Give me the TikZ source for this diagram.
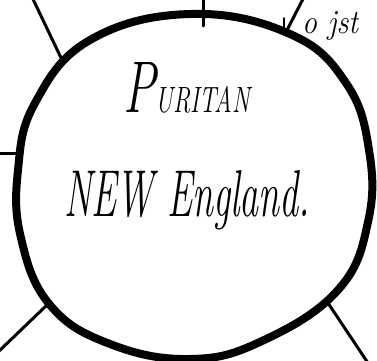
\documentclass[tikz,border=0pt]{standalone}
\usepackage{graphicx}
\begin{document}
\begin{tikzpicture}[x=1pt,y=-1pt,
  hub/.style={line width=8pt,line join=round},
  spoke/.style={line width=3pt,line cap=round},
  tick/.style={line width=1.4pt,line cap=round},
  hand/.style={inner sep=0pt,font=\itshape}]
\useasboundingbox (0,0) rectangle (377,360);
\clip (0,0) rectangle (377,360);
% hub outline (hand-drawn circle)
\draw[hub] plot[smooth cycle, tension=0.7] coordinates {
 (190,14) (290,34) (346,83) (369,150) (368,222) (338,290) (262,341)
 (190,359) (110,344) (50,305) (21,238) (18,170) (35,103) (90,40)};
% contact points on the hub
\coordinate (cTop) at (203,26);
\coordinate (cUL) at (63,62);
\coordinate (cUR) at (285,34);
\coordinate (cL) at (19,153);
\coordinate (cLL) at (48,304);
\coordinate (cLR) at (328,303);
% free ends of the spokes
\coordinate (eTop) at (203,-3);
\coordinate (eUL) at (32,-3);
\coordinate (eUR) at (304,-3);
\coordinate (eL) at (-3,153);
\coordinate (eLL) at (-3,353);
\coordinate (eLR) at (368,363);
\draw[spoke] (eTop) -- (cTop);
\draw[spoke] (eUL) -- (cUL);
\draw[spoke] (eUR) -- (cUR);
\draw[spoke] (eL) -- (cL);
\draw[spoke] (eLL) -- (cLL);
\draw[spoke] (eLR) -- (cLR);
\coordinate (tA) at (284,18);
\coordinate (tB) at (284,31);
\draw[tick] (tA) -- (tB);
% texts
\node[hand,anchor=base west] (t1) at (123,112)
  {\resizebox{127pt}{50pt}{{\fontsize{40}{40}\selectfont P}{\fontsize{20}{20}\selectfont URITAN}}};
\node[hand,anchor=base west] (t2) at (64,216)
  {\resizebox{246pt}{46pt}{\fontsize{37}{37}\selectfont NEW England.}};
\node[hand,anchor=base west] (t3) at (302,33)
  {\resizebox{56pt}{22pt}{\fontsize{26}{26}\selectfont o jst}};
\end{tikzpicture}
\end{document}
